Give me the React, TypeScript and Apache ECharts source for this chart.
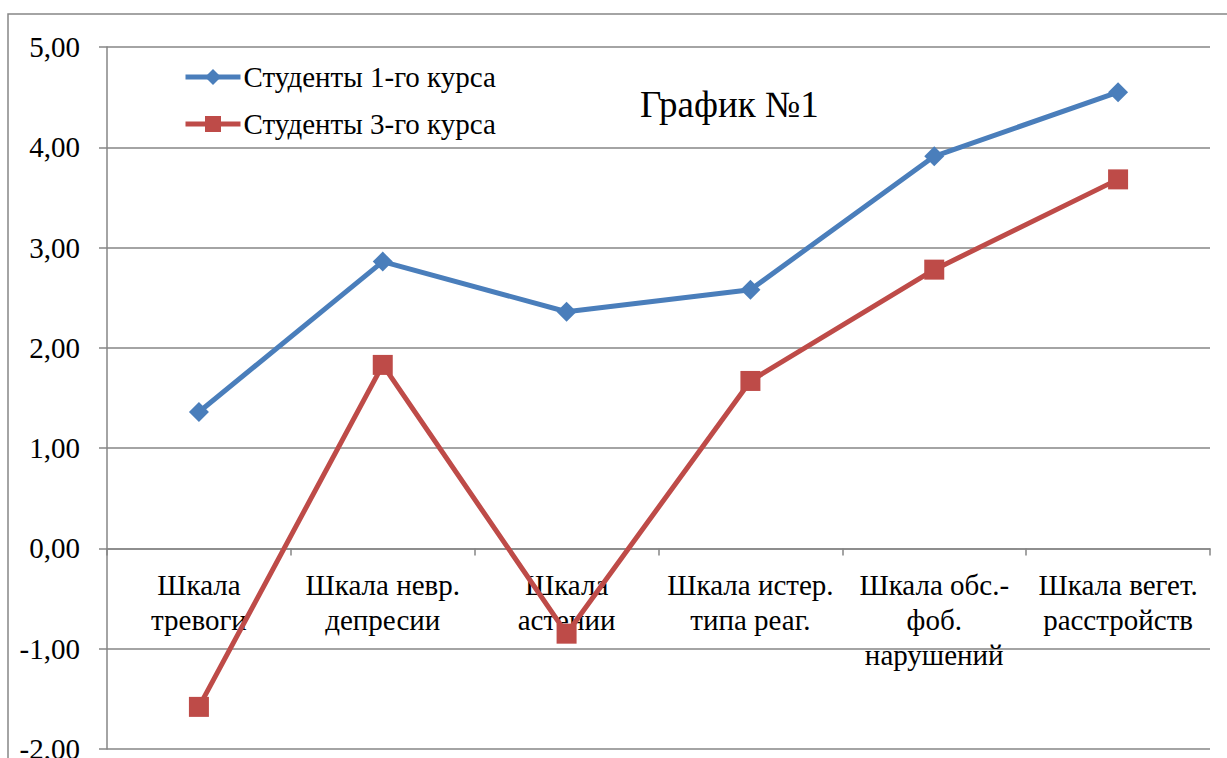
import React, { useEffect, useRef } from "react";
import * as echarts from "echarts";

const categories = [
  "Шкала\nтревоги",
  "Шкала невр.\nдепресии",
  "Шкала\nастении",
  "Шкала истер.\nтипа реаг.",
  "Шкала обс.-\nфоб.\nнарушений",
  "Шкала вегет.\nрасстройств",
];
const course1 = [1.36, 2.86, 2.36, 2.58, 3.91, 4.55];
const course3 = [-1.58, 1.83, -0.85, 1.67, 2.78, 3.68];
const seriesNames = ["Студенты 1-го курса", "Студенты 3-го курса"];
const titleText = "График №1";

const FONT = "Liberation Serif";
const GRAY = "#868686";

export default function App() {
  const ref = useRef<HTMLDivElement>(null);
  useEffect(() => {
    document.body.style.margin = "0";
    const chart = echarts.init(ref.current!, undefined, { renderer: "svg" });
    const gridTop = 47;
    const gridBottom = 9;
    const gridH = 758 - gridTop - gridBottom;
    const yMin = -2;
    const yMax = 5;
    const zeroOffset = -(gridH * (0 - yMin)) / (yMax - yMin);
    chart.setOption({
      animation: false,
      backgroundColor: "#ffffff",
      textStyle: { fontFamily: FONT },
      grid: {
        left: 107,
        right: 17,
        top: gridTop,
        bottom: gridBottom,
        containLabel: false,
        outerBoundsMode: "none",
      },
      legend: {
        orient: "vertical",
        left: 183,
        top: 62,
        padding: 0,
        itemWidth: 55,
        itemHeight: 20,
        itemGap: 17,
        lineStyle: { width: 5 },
        textStyle: { fontFamily: FONT, fontSize: 29, color: "#000", lineHeight: 30, padding: [0, 0, 0, -2] },
        data: seriesNames,
      },
      graphic: [
        {
          type: "rect",
          shape: { x: 8, y: 14, width: 1400, height: 900 },
          style: { fill: "none", stroke: GRAY, lineWidth: 1.5 },
          silent: true,
        },
        {
          type: "text",
          x: 640,
          y: 86,
          style: { text: titleText, fontFamily: FONT, fontSize: 37, fill: "#000" },
        },
      ],
      xAxis: {
        type: "category",
        data: categories,
        boundaryGap: true,
        offset: zeroOffset,
        axisLine: { show: true, onZero: false, lineStyle: { color: GRAY, width: 1.5 } },
        axisTick: { show: true, length: 7, alignWithLabel: false, lineStyle: { color: GRAY, width: 1.5 } },
        axisLabel: {
          interval: 0,
          margin: 19,
          color: "#000",
          fontFamily: FONT,
          fontSize: 29,
          lineHeight: 35,
          align: "center",
        },
        splitLine: { show: false },
      },
      yAxis: {
        type: "value",
        min: yMin,
        max: yMax,
        interval: 1,
        axisLine: { show: true, lineStyle: { color: GRAY, width: 1.5 } },
        axisTick: { show: true, length: 8, lineStyle: { color: GRAY, width: 1.5 } },
        axisLabel: {
          margin: 27,
          color: "#000",
          fontFamily: FONT,
          fontSize: 29,
          formatter: (v: number) => v.toFixed(2).replace(".", ","),
        },
        splitLine: { show: true, lineStyle: { color: GRAY, width: 1.5 } },
      },
      series: [
        {
          name: seriesNames[0],
          type: "line",
          data: course1,
          symbol: "diamond",
          symbolSize: 20,
          lineStyle: { color: "#4A7EBB", width: 5 },
          itemStyle: { color: "#4A7EBB" },
        },
        {
          name: seriesNames[1],
          type: "line",
          data: course3,
          symbol: "rect",
          symbolSize: 20,
          lineStyle: { color: "#BE4B48", width: 5 },
          itemStyle: { color: "#BE4B48" },
        },
      ],
    });
    return () => chart.dispose();
  }, []);
  return <div ref={ref} style={{ width: 1227, height: 758 }} />;
}
